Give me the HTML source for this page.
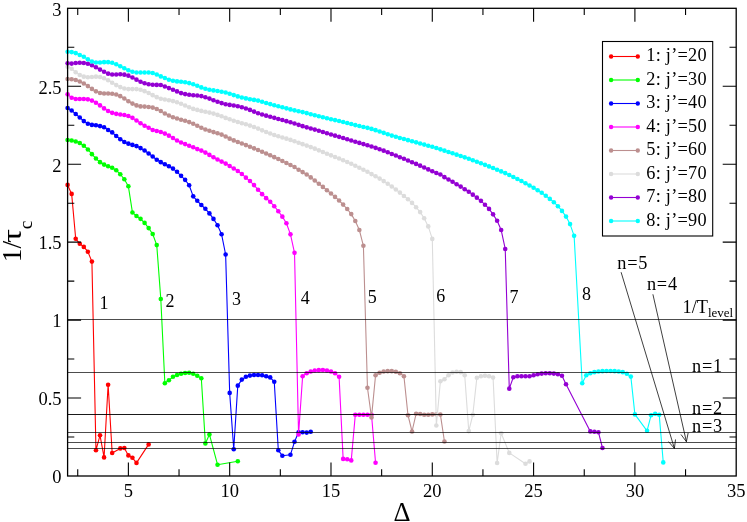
<!DOCTYPE html>
<html><head><meta charset="utf-8"><title>plot</title><style>html,body{margin:0;padding:0;background:#fff}svg{display:block;will-change:transform}text{font-family:"Liberation Serif",serif;fill:#000}</style></head><body>
<svg width="747" height="522" viewBox="0 0 747 522">
<rect width="747" height="522" fill="#fff"/>
<g stroke="#ff0000" fill="#ff0000"><path d="M67.60 184.90L71.65 193.90L75.70 238.80L79.76 243.70L83.81 246.90L87.86 251.70L91.91 261.60L95.96 450.20L100.02 435.30L104.07 457.40L108.12 384.70L112.17 453.00L120.28 448.40L124.33 448.00L128.38 455.40L132.43 457.80L136.49 462.90L148.64 444.40" fill="none" stroke-width="1.1" stroke-linejoin="round"/>
<g stroke="none"><circle cx="67.60" cy="184.90" r="2.3"/><circle cx="71.65" cy="193.90" r="2.3"/><circle cx="75.70" cy="238.80" r="2.3"/><circle cx="79.76" cy="243.70" r="2.3"/><circle cx="83.81" cy="246.90" r="2.3"/><circle cx="87.86" cy="251.70" r="2.3"/><circle cx="91.91" cy="261.60" r="2.3"/><circle cx="95.96" cy="450.20" r="2.3"/><circle cx="100.02" cy="435.30" r="2.3"/><circle cx="104.07" cy="457.40" r="2.3"/><circle cx="108.12" cy="384.70" r="2.3"/><circle cx="112.17" cy="453.00" r="2.3"/><circle cx="120.28" cy="448.40" r="2.3"/><circle cx="124.33" cy="448.00" r="2.3"/><circle cx="128.38" cy="455.40" r="2.3"/><circle cx="132.43" cy="457.80" r="2.3"/><circle cx="136.49" cy="462.90" r="2.3"/><circle cx="148.64" cy="444.40" r="2.3"/></g></g>
<g stroke="#00ff00" fill="#00ff00"><path d="M67.60 140.05L71.65 140.46L75.70 141.46L79.76 143.07L83.81 145.68L87.86 149.50L91.91 154.13L95.96 158.55L100.02 162.17L104.07 164.58L108.12 166.19L112.17 167.80L116.23 170.21L120.28 174.24L124.33 179.26L128.38 186.30L132.43 212.44L136.49 216.06L140.54 218.87L144.59 222.90L148.64 228.12L152.69 234.02L156.75 245.08L160.80 298.97L164.85 383.23L168.90 380.21L172.96 376.80L177.01 374.99L181.06 373.78L185.11 372.98L189.16 372.77L193.22 373.78L197.27 375.79L201.32 378.20L205.37 443.40L209.42 434.40L217.53 464.70L237.79 461.30" fill="none" stroke-width="1.1" stroke-linejoin="round"/>
<g stroke="none"><circle cx="67.60" cy="140.05" r="2.3"/><circle cx="71.65" cy="140.46" r="2.3"/><circle cx="75.70" cy="141.46" r="2.3"/><circle cx="79.76" cy="143.07" r="2.3"/><circle cx="83.81" cy="145.68" r="2.3"/><circle cx="87.86" cy="149.50" r="2.3"/><circle cx="91.91" cy="154.13" r="2.3"/><circle cx="95.96" cy="158.55" r="2.3"/><circle cx="100.02" cy="162.17" r="2.3"/><circle cx="104.07" cy="164.58" r="2.3"/><circle cx="108.12" cy="166.19" r="2.3"/><circle cx="112.17" cy="167.80" r="2.3"/><circle cx="116.23" cy="170.21" r="2.3"/><circle cx="120.28" cy="174.24" r="2.3"/><circle cx="124.33" cy="179.26" r="2.3"/><circle cx="128.38" cy="186.30" r="2.3"/><circle cx="132.43" cy="212.44" r="2.3"/><circle cx="136.49" cy="216.06" r="2.3"/><circle cx="140.54" cy="218.87" r="2.3"/><circle cx="144.59" cy="222.90" r="2.3"/><circle cx="148.64" cy="228.12" r="2.3"/><circle cx="152.69" cy="234.02" r="2.3"/><circle cx="156.75" cy="245.08" r="2.3"/><circle cx="160.80" cy="298.97" r="2.3"/><circle cx="164.85" cy="383.23" r="2.3"/><circle cx="168.90" cy="380.21" r="2.3"/><circle cx="172.96" cy="376.80" r="2.3"/><circle cx="177.01" cy="374.99" r="2.3"/><circle cx="181.06" cy="373.78" r="2.3"/><circle cx="185.11" cy="372.98" r="2.3"/><circle cx="189.16" cy="372.77" r="2.3"/><circle cx="193.22" cy="373.78" r="2.3"/><circle cx="197.27" cy="375.79" r="2.3"/><circle cx="201.32" cy="378.20" r="2.3"/><circle cx="205.37" cy="443.40" r="2.3"/><circle cx="209.42" cy="434.40" r="2.3"/><circle cx="217.53" cy="464.70" r="2.3"/><circle cx="237.79" cy="461.30" r="2.3"/></g></g>
<g stroke="#0000ff" fill="#0000ff"><path d="M67.60 108.02L71.65 110.43L75.70 114.05L79.76 117.47L83.81 121.09L87.86 123.70L91.91 124.91L95.96 125.31L100.02 126.11L104.07 127.32L108.12 130.00L112.17 132.41L116.23 136.03L120.28 139.25L124.33 142.06L128.38 143.67L132.43 144.88L136.49 146.09L140.54 148.10L144.59 150.51L148.64 153.53L152.69 156.54L156.75 159.76L160.80 162.17L164.85 164.18L168.90 166.19L172.96 168.61L177.01 171.82L181.06 175.84L185.11 179.87L189.16 185.29L193.22 196.35L197.27 200.78L201.32 205.00L205.37 208.80L209.42 213.40L213.48 218.90L217.53 225.30L221.58 234.30L225.63 254.50L229.68 392.90L233.74 449.30L237.79 385.64L241.84 379.61L245.89 376.80L249.95 375.59L254.00 374.99L258.05 374.99L262.10 375.19L266.15 376.19L270.21 377.40L274.26 381.82L278.31 450.30L282.36 455.70L290.47 454.70L294.52 441.80L298.57 432.20L302.62 432.20L306.68 432.60L310.73 431.80" fill="none" stroke-width="1.1" stroke-linejoin="round"/>
<g stroke="none"><circle cx="67.60" cy="108.02" r="2.3"/><circle cx="71.65" cy="110.43" r="2.3"/><circle cx="75.70" cy="114.05" r="2.3"/><circle cx="79.76" cy="117.47" r="2.3"/><circle cx="83.81" cy="121.09" r="2.3"/><circle cx="87.86" cy="123.70" r="2.3"/><circle cx="91.91" cy="124.91" r="2.3"/><circle cx="95.96" cy="125.31" r="2.3"/><circle cx="100.02" cy="126.11" r="2.3"/><circle cx="104.07" cy="127.32" r="2.3"/><circle cx="108.12" cy="130.00" r="2.3"/><circle cx="112.17" cy="132.41" r="2.3"/><circle cx="116.23" cy="136.03" r="2.3"/><circle cx="120.28" cy="139.25" r="2.3"/><circle cx="124.33" cy="142.06" r="2.3"/><circle cx="128.38" cy="143.67" r="2.3"/><circle cx="132.43" cy="144.88" r="2.3"/><circle cx="136.49" cy="146.09" r="2.3"/><circle cx="140.54" cy="148.10" r="2.3"/><circle cx="144.59" cy="150.51" r="2.3"/><circle cx="148.64" cy="153.53" r="2.3"/><circle cx="152.69" cy="156.54" r="2.3"/><circle cx="156.75" cy="159.76" r="2.3"/><circle cx="160.80" cy="162.17" r="2.3"/><circle cx="164.85" cy="164.18" r="2.3"/><circle cx="168.90" cy="166.19" r="2.3"/><circle cx="172.96" cy="168.61" r="2.3"/><circle cx="177.01" cy="171.82" r="2.3"/><circle cx="181.06" cy="175.84" r="2.3"/><circle cx="185.11" cy="179.87" r="2.3"/><circle cx="189.16" cy="185.29" r="2.3"/><circle cx="193.22" cy="196.35" r="2.3"/><circle cx="197.27" cy="200.78" r="2.3"/><circle cx="201.32" cy="205.00" r="2.3"/><circle cx="205.37" cy="208.80" r="2.3"/><circle cx="209.42" cy="213.40" r="2.3"/><circle cx="213.48" cy="218.90" r="2.3"/><circle cx="217.53" cy="225.30" r="2.3"/><circle cx="221.58" cy="234.30" r="2.3"/><circle cx="225.63" cy="254.50" r="2.3"/><circle cx="229.68" cy="392.90" r="2.3"/><circle cx="233.74" cy="449.30" r="2.3"/><circle cx="237.79" cy="385.64" r="2.3"/><circle cx="241.84" cy="379.61" r="2.3"/><circle cx="245.89" cy="376.80" r="2.3"/><circle cx="249.95" cy="375.59" r="2.3"/><circle cx="254.00" cy="374.99" r="2.3"/><circle cx="258.05" cy="374.99" r="2.3"/><circle cx="262.10" cy="375.19" r="2.3"/><circle cx="266.15" cy="376.19" r="2.3"/><circle cx="270.21" cy="377.40" r="2.3"/><circle cx="274.26" cy="381.82" r="2.3"/><circle cx="278.31" cy="450.30" r="2.3"/><circle cx="282.36" cy="455.70" r="2.3"/><circle cx="290.47" cy="454.70" r="2.3"/><circle cx="294.52" cy="441.80" r="2.3"/><circle cx="298.57" cy="432.20" r="2.3"/><circle cx="302.62" cy="432.20" r="2.3"/><circle cx="306.68" cy="432.60" r="2.3"/><circle cx="310.73" cy="431.80" r="2.3"/></g></g>
<g stroke="#ff00ff" fill="#ff00ff"><path d="M67.60 94.34L71.65 97.76L75.70 98.97L79.76 98.97L83.81 98.97L87.86 99.37L91.91 100.58L95.96 102.79L100.02 105.40L104.07 108.42L108.12 111.03L112.17 112.84L116.23 113.85L120.28 114.45L124.33 115.05L128.38 116.06L132.43 117.87L136.49 120.48L140.54 123.30L144.59 125.71L148.64 127.72L152.69 130.00L156.75 131.01L160.80 132.01L164.85 133.62L168.90 135.63L172.96 138.04L177.01 140.46L181.06 142.47L185.11 144.08L189.16 145.68L193.22 147.29L197.27 149.10L201.32 150.60L205.37 152.60L209.42 154.90L213.48 157.30L217.53 159.50L221.58 161.60L225.63 163.60L229.68 166.00L233.74 168.50L237.79 171.01L241.84 174.02L245.89 177.64L249.95 181.06L254.00 185.08L258.05 189.71L262.10 194.13L266.15 198.15L270.21 201.77L274.26 206.19L278.31 211.22L282.36 216.65L286.41 223.28L290.47 234.34L294.52 252.84L298.57 434.40L302.62 376.19L306.68 373.18L310.73 371.57L314.78 370.56L318.83 370.16L322.88 369.96L326.94 370.56L330.99 371.57L335.04 373.18L339.09 376.80L343.14 458.90L347.20 459.30L351.25 460.40L355.30 414.80L359.35 414.80L363.40 414.80L367.46 414.80L371.51 414.80L375.56 462.80" fill="none" stroke-width="1.1" stroke-linejoin="round"/>
<g stroke="none"><circle cx="67.60" cy="94.34" r="2.3"/><circle cx="71.65" cy="97.76" r="2.3"/><circle cx="75.70" cy="98.97" r="2.3"/><circle cx="79.76" cy="98.97" r="2.3"/><circle cx="83.81" cy="98.97" r="2.3"/><circle cx="87.86" cy="99.37" r="2.3"/><circle cx="91.91" cy="100.58" r="2.3"/><circle cx="95.96" cy="102.79" r="2.3"/><circle cx="100.02" cy="105.40" r="2.3"/><circle cx="104.07" cy="108.42" r="2.3"/><circle cx="108.12" cy="111.03" r="2.3"/><circle cx="112.17" cy="112.84" r="2.3"/><circle cx="116.23" cy="113.85" r="2.3"/><circle cx="120.28" cy="114.45" r="2.3"/><circle cx="124.33" cy="115.05" r="2.3"/><circle cx="128.38" cy="116.06" r="2.3"/><circle cx="132.43" cy="117.87" r="2.3"/><circle cx="136.49" cy="120.48" r="2.3"/><circle cx="140.54" cy="123.30" r="2.3"/><circle cx="144.59" cy="125.71" r="2.3"/><circle cx="148.64" cy="127.72" r="2.3"/><circle cx="152.69" cy="130.00" r="2.3"/><circle cx="156.75" cy="131.01" r="2.3"/><circle cx="160.80" cy="132.01" r="2.3"/><circle cx="164.85" cy="133.62" r="2.3"/><circle cx="168.90" cy="135.63" r="2.3"/><circle cx="172.96" cy="138.04" r="2.3"/><circle cx="177.01" cy="140.46" r="2.3"/><circle cx="181.06" cy="142.47" r="2.3"/><circle cx="185.11" cy="144.08" r="2.3"/><circle cx="189.16" cy="145.68" r="2.3"/><circle cx="193.22" cy="147.29" r="2.3"/><circle cx="197.27" cy="149.10" r="2.3"/><circle cx="201.32" cy="150.60" r="2.3"/><circle cx="205.37" cy="152.60" r="2.3"/><circle cx="209.42" cy="154.90" r="2.3"/><circle cx="213.48" cy="157.30" r="2.3"/><circle cx="217.53" cy="159.50" r="2.3"/><circle cx="221.58" cy="161.60" r="2.3"/><circle cx="225.63" cy="163.60" r="2.3"/><circle cx="229.68" cy="166.00" r="2.3"/><circle cx="233.74" cy="168.50" r="2.3"/><circle cx="237.79" cy="171.01" r="2.3"/><circle cx="241.84" cy="174.02" r="2.3"/><circle cx="245.89" cy="177.64" r="2.3"/><circle cx="249.95" cy="181.06" r="2.3"/><circle cx="254.00" cy="185.08" r="2.3"/><circle cx="258.05" cy="189.71" r="2.3"/><circle cx="262.10" cy="194.13" r="2.3"/><circle cx="266.15" cy="198.15" r="2.3"/><circle cx="270.21" cy="201.77" r="2.3"/><circle cx="274.26" cy="206.19" r="2.3"/><circle cx="278.31" cy="211.22" r="2.3"/><circle cx="282.36" cy="216.65" r="2.3"/><circle cx="286.41" cy="223.28" r="2.3"/><circle cx="290.47" cy="234.34" r="2.3"/><circle cx="294.52" cy="252.84" r="2.3"/><circle cx="298.57" cy="434.40" r="2.3"/><circle cx="302.62" cy="376.19" r="2.3"/><circle cx="306.68" cy="373.18" r="2.3"/><circle cx="310.73" cy="371.57" r="2.3"/><circle cx="314.78" cy="370.56" r="2.3"/><circle cx="318.83" cy="370.16" r="2.3"/><circle cx="322.88" cy="369.96" r="2.3"/><circle cx="326.94" cy="370.56" r="2.3"/><circle cx="330.99" cy="371.57" r="2.3"/><circle cx="335.04" cy="373.18" r="2.3"/><circle cx="339.09" cy="376.80" r="2.3"/><circle cx="343.14" cy="458.90" r="2.3"/><circle cx="347.20" cy="459.30" r="2.3"/><circle cx="351.25" cy="460.40" r="2.3"/><circle cx="355.30" cy="414.80" r="2.3"/><circle cx="359.35" cy="414.80" r="2.3"/><circle cx="363.40" cy="414.80" r="2.3"/><circle cx="367.46" cy="414.80" r="2.3"/><circle cx="371.51" cy="414.80" r="2.3"/><circle cx="375.56" cy="462.80" r="2.3"/></g></g>
<g stroke="#bc8f8f" fill="#bc8f8f"><path d="M67.60 79.06L71.65 79.26L75.70 80.07L79.76 81.47L83.81 83.49L87.86 86.10L91.91 88.91L95.96 91.33L100.02 92.94L104.07 93.54L108.12 93.54L112.17 93.74L116.23 94.54L120.28 96.15L124.33 98.57L128.38 101.18L132.43 103.59L136.49 105.40L140.54 106.41L144.59 106.61L148.64 107.01L152.69 107.61L156.75 109.02L160.80 111.03L164.85 113.45L168.90 115.46L172.96 117.27L177.01 118.47L181.06 119.80L185.11 120.80L189.16 122.10L193.22 123.80L197.27 125.70L201.32 127.80L205.37 129.50L209.42 130.80L213.48 132.10L217.53 133.20L221.58 134.60L225.63 136.56L229.68 138.66L233.74 140.39L237.79 141.97L241.84 143.51L245.89 145.11L249.95 146.73L254.00 148.36L258.05 150.04L262.10 151.76L266.15 153.51L270.21 155.31L274.26 157.17L278.31 159.07L282.36 161.01L286.41 162.98L290.47 165.00L294.52 167.00L298.57 169.70L302.62 172.10L306.68 174.50L310.73 177.40L314.78 180.50L318.83 183.70L322.88 186.90L326.94 190.20L330.99 193.50L335.04 196.90L339.09 200.50L343.14 204.60L347.20 209.00L351.25 214.10L355.30 221.00L359.35 230.00L363.40 245.80L367.46 387.70L371.51 417.40L375.56 375.19L379.61 372.77L383.67 371.57L387.72 371.17L391.77 371.17L395.82 371.77L399.87 373.18L403.93 376.19L407.98 415.20L412.03 431.50L416.08 413.80L420.13 414.00L424.19 414.70L428.24 414.70L432.29 414.40L436.34 414.20L440.40 414.60L444.45 441.50" fill="none" stroke-width="1.1" stroke-linejoin="round"/>
<g stroke="none"><circle cx="67.60" cy="79.06" r="2.3"/><circle cx="71.65" cy="79.26" r="2.3"/><circle cx="75.70" cy="80.07" r="2.3"/><circle cx="79.76" cy="81.47" r="2.3"/><circle cx="83.81" cy="83.49" r="2.3"/><circle cx="87.86" cy="86.10" r="2.3"/><circle cx="91.91" cy="88.91" r="2.3"/><circle cx="95.96" cy="91.33" r="2.3"/><circle cx="100.02" cy="92.94" r="2.3"/><circle cx="104.07" cy="93.54" r="2.3"/><circle cx="108.12" cy="93.54" r="2.3"/><circle cx="112.17" cy="93.74" r="2.3"/><circle cx="116.23" cy="94.54" r="2.3"/><circle cx="120.28" cy="96.15" r="2.3"/><circle cx="124.33" cy="98.57" r="2.3"/><circle cx="128.38" cy="101.18" r="2.3"/><circle cx="132.43" cy="103.59" r="2.3"/><circle cx="136.49" cy="105.40" r="2.3"/><circle cx="140.54" cy="106.41" r="2.3"/><circle cx="144.59" cy="106.61" r="2.3"/><circle cx="148.64" cy="107.01" r="2.3"/><circle cx="152.69" cy="107.61" r="2.3"/><circle cx="156.75" cy="109.02" r="2.3"/><circle cx="160.80" cy="111.03" r="2.3"/><circle cx="164.85" cy="113.45" r="2.3"/><circle cx="168.90" cy="115.46" r="2.3"/><circle cx="172.96" cy="117.27" r="2.3"/><circle cx="177.01" cy="118.47" r="2.3"/><circle cx="181.06" cy="119.80" r="2.3"/><circle cx="185.11" cy="120.80" r="2.3"/><circle cx="189.16" cy="122.10" r="2.3"/><circle cx="193.22" cy="123.80" r="2.3"/><circle cx="197.27" cy="125.70" r="2.3"/><circle cx="201.32" cy="127.80" r="2.3"/><circle cx="205.37" cy="129.50" r="2.3"/><circle cx="209.42" cy="130.80" r="2.3"/><circle cx="213.48" cy="132.10" r="2.3"/><circle cx="217.53" cy="133.20" r="2.3"/><circle cx="221.58" cy="134.60" r="2.3"/><circle cx="225.63" cy="136.56" r="2.3"/><circle cx="229.68" cy="138.66" r="2.3"/><circle cx="233.74" cy="140.39" r="2.3"/><circle cx="237.79" cy="141.97" r="2.3"/><circle cx="241.84" cy="143.51" r="2.3"/><circle cx="245.89" cy="145.11" r="2.3"/><circle cx="249.95" cy="146.73" r="2.3"/><circle cx="254.00" cy="148.36" r="2.3"/><circle cx="258.05" cy="150.04" r="2.3"/><circle cx="262.10" cy="151.76" r="2.3"/><circle cx="266.15" cy="153.51" r="2.3"/><circle cx="270.21" cy="155.31" r="2.3"/><circle cx="274.26" cy="157.17" r="2.3"/><circle cx="278.31" cy="159.07" r="2.3"/><circle cx="282.36" cy="161.01" r="2.3"/><circle cx="286.41" cy="162.98" r="2.3"/><circle cx="290.47" cy="165.00" r="2.3"/><circle cx="294.52" cy="167.00" r="2.3"/><circle cx="298.57" cy="169.70" r="2.3"/><circle cx="302.62" cy="172.10" r="2.3"/><circle cx="306.68" cy="174.50" r="2.3"/><circle cx="310.73" cy="177.40" r="2.3"/><circle cx="314.78" cy="180.50" r="2.3"/><circle cx="318.83" cy="183.70" r="2.3"/><circle cx="322.88" cy="186.90" r="2.3"/><circle cx="326.94" cy="190.20" r="2.3"/><circle cx="330.99" cy="193.50" r="2.3"/><circle cx="335.04" cy="196.90" r="2.3"/><circle cx="339.09" cy="200.50" r="2.3"/><circle cx="343.14" cy="204.60" r="2.3"/><circle cx="347.20" cy="209.00" r="2.3"/><circle cx="351.25" cy="214.10" r="2.3"/><circle cx="355.30" cy="221.00" r="2.3"/><circle cx="359.35" cy="230.00" r="2.3"/><circle cx="363.40" cy="245.80" r="2.3"/><circle cx="367.46" cy="387.70" r="2.3"/><circle cx="371.51" cy="417.40" r="2.3"/><circle cx="375.56" cy="375.19" r="2.3"/><circle cx="379.61" cy="372.77" r="2.3"/><circle cx="383.67" cy="371.57" r="2.3"/><circle cx="387.72" cy="371.17" r="2.3"/><circle cx="391.77" cy="371.17" r="2.3"/><circle cx="395.82" cy="371.77" r="2.3"/><circle cx="399.87" cy="373.18" r="2.3"/><circle cx="403.93" cy="376.19" r="2.3"/><circle cx="407.98" cy="415.20" r="2.3"/><circle cx="412.03" cy="431.50" r="2.3"/><circle cx="416.08" cy="413.80" r="2.3"/><circle cx="420.13" cy="414.00" r="2.3"/><circle cx="424.19" cy="414.70" r="2.3"/><circle cx="428.24" cy="414.70" r="2.3"/><circle cx="432.29" cy="414.40" r="2.3"/><circle cx="436.34" cy="414.20" r="2.3"/><circle cx="440.40" cy="414.60" r="2.3"/><circle cx="444.45" cy="441.50" r="2.3"/></g></g>
<g stroke="#dcdcdc" fill="#dcdcdc"><path d="M67.60 66.80L71.65 68.81L75.70 72.23L79.76 75.04L83.81 76.65L87.86 77.25L91.91 77.05L95.96 76.65L100.02 77.05L104.07 78.26L108.12 80.27L112.17 82.68L116.23 85.09L120.28 87.10L124.33 88.51L128.38 89.12L132.43 89.12L136.49 89.12L140.54 89.72L144.59 91.13L148.64 92.94L152.69 95.15L156.75 97.16L160.80 98.80L164.85 99.50L168.90 100.20L172.96 101.10L177.01 102.20L181.06 103.80L185.11 105.50L189.16 107.30L193.22 108.90L197.27 109.90L201.32 110.90L205.37 111.80L209.42 112.60L213.48 113.60L217.53 114.90L221.58 116.20L225.63 117.90L229.68 119.30L233.74 120.70L237.79 122.00L241.84 123.20L245.89 124.30L249.95 125.60L254.00 127.00L258.05 128.60L262.10 130.35L266.15 132.07L270.21 133.57L274.26 134.94L278.31 136.24L282.36 137.50L286.41 138.67L290.47 139.89L294.52 141.24L298.57 142.68L302.62 144.14L306.68 145.61L310.73 147.11L314.78 148.67L318.83 150.33L322.88 152.05L326.94 153.74L330.99 155.34L335.04 156.93L339.09 158.56L343.14 160.26L347.20 162.00L351.25 163.80L355.30 165.80L359.35 167.80L363.40 169.80L367.46 171.80L371.51 174.10L375.56 176.30L379.61 178.60L383.67 181.10L387.72 183.80L391.77 186.50L395.82 189.50L399.87 192.60L403.93 196.00L407.98 199.30L412.03 202.90L416.08 207.20L420.13 212.10L424.19 218.30L428.24 226.40L432.29 238.90L436.34 425.50L440.40 381.22L444.45 379.21L448.50 375.19L452.55 372.57L456.60 371.77L460.66 372.17L464.71 375.19L468.76 431.10L472.81 414.80L476.86 377.80L480.92 376.19L484.97 375.79L489.02 376.19L493.07 377.60L497.12 463.00L501.18 433.30L509.28 452.90L525.49 463.80L529.54 461.40" fill="none" stroke-width="1.1" stroke-linejoin="round"/>
<g stroke="none"><circle cx="67.60" cy="66.80" r="2.3"/><circle cx="71.65" cy="68.81" r="2.3"/><circle cx="75.70" cy="72.23" r="2.3"/><circle cx="79.76" cy="75.04" r="2.3"/><circle cx="83.81" cy="76.65" r="2.3"/><circle cx="87.86" cy="77.25" r="2.3"/><circle cx="91.91" cy="77.05" r="2.3"/><circle cx="95.96" cy="76.65" r="2.3"/><circle cx="100.02" cy="77.05" r="2.3"/><circle cx="104.07" cy="78.26" r="2.3"/><circle cx="108.12" cy="80.27" r="2.3"/><circle cx="112.17" cy="82.68" r="2.3"/><circle cx="116.23" cy="85.09" r="2.3"/><circle cx="120.28" cy="87.10" r="2.3"/><circle cx="124.33" cy="88.51" r="2.3"/><circle cx="128.38" cy="89.12" r="2.3"/><circle cx="132.43" cy="89.12" r="2.3"/><circle cx="136.49" cy="89.12" r="2.3"/><circle cx="140.54" cy="89.72" r="2.3"/><circle cx="144.59" cy="91.13" r="2.3"/><circle cx="148.64" cy="92.94" r="2.3"/><circle cx="152.69" cy="95.15" r="2.3"/><circle cx="156.75" cy="97.16" r="2.3"/><circle cx="160.80" cy="98.80" r="2.3"/><circle cx="164.85" cy="99.50" r="2.3"/><circle cx="168.90" cy="100.20" r="2.3"/><circle cx="172.96" cy="101.10" r="2.3"/><circle cx="177.01" cy="102.20" r="2.3"/><circle cx="181.06" cy="103.80" r="2.3"/><circle cx="185.11" cy="105.50" r="2.3"/><circle cx="189.16" cy="107.30" r="2.3"/><circle cx="193.22" cy="108.90" r="2.3"/><circle cx="197.27" cy="109.90" r="2.3"/><circle cx="201.32" cy="110.90" r="2.3"/><circle cx="205.37" cy="111.80" r="2.3"/><circle cx="209.42" cy="112.60" r="2.3"/><circle cx="213.48" cy="113.60" r="2.3"/><circle cx="217.53" cy="114.90" r="2.3"/><circle cx="221.58" cy="116.20" r="2.3"/><circle cx="225.63" cy="117.90" r="2.3"/><circle cx="229.68" cy="119.30" r="2.3"/><circle cx="233.74" cy="120.70" r="2.3"/><circle cx="237.79" cy="122.00" r="2.3"/><circle cx="241.84" cy="123.20" r="2.3"/><circle cx="245.89" cy="124.30" r="2.3"/><circle cx="249.95" cy="125.60" r="2.3"/><circle cx="254.00" cy="127.00" r="2.3"/><circle cx="258.05" cy="128.60" r="2.3"/><circle cx="262.10" cy="130.35" r="2.3"/><circle cx="266.15" cy="132.07" r="2.3"/><circle cx="270.21" cy="133.57" r="2.3"/><circle cx="274.26" cy="134.94" r="2.3"/><circle cx="278.31" cy="136.24" r="2.3"/><circle cx="282.36" cy="137.50" r="2.3"/><circle cx="286.41" cy="138.67" r="2.3"/><circle cx="290.47" cy="139.89" r="2.3"/><circle cx="294.52" cy="141.24" r="2.3"/><circle cx="298.57" cy="142.68" r="2.3"/><circle cx="302.62" cy="144.14" r="2.3"/><circle cx="306.68" cy="145.61" r="2.3"/><circle cx="310.73" cy="147.11" r="2.3"/><circle cx="314.78" cy="148.67" r="2.3"/><circle cx="318.83" cy="150.33" r="2.3"/><circle cx="322.88" cy="152.05" r="2.3"/><circle cx="326.94" cy="153.74" r="2.3"/><circle cx="330.99" cy="155.34" r="2.3"/><circle cx="335.04" cy="156.93" r="2.3"/><circle cx="339.09" cy="158.56" r="2.3"/><circle cx="343.14" cy="160.26" r="2.3"/><circle cx="347.20" cy="162.00" r="2.3"/><circle cx="351.25" cy="163.80" r="2.3"/><circle cx="355.30" cy="165.80" r="2.3"/><circle cx="359.35" cy="167.80" r="2.3"/><circle cx="363.40" cy="169.80" r="2.3"/><circle cx="367.46" cy="171.80" r="2.3"/><circle cx="371.51" cy="174.10" r="2.3"/><circle cx="375.56" cy="176.30" r="2.3"/><circle cx="379.61" cy="178.60" r="2.3"/><circle cx="383.67" cy="181.10" r="2.3"/><circle cx="387.72" cy="183.80" r="2.3"/><circle cx="391.77" cy="186.50" r="2.3"/><circle cx="395.82" cy="189.50" r="2.3"/><circle cx="399.87" cy="192.60" r="2.3"/><circle cx="403.93" cy="196.00" r="2.3"/><circle cx="407.98" cy="199.30" r="2.3"/><circle cx="412.03" cy="202.90" r="2.3"/><circle cx="416.08" cy="207.20" r="2.3"/><circle cx="420.13" cy="212.10" r="2.3"/><circle cx="424.19" cy="218.30" r="2.3"/><circle cx="428.24" cy="226.40" r="2.3"/><circle cx="432.29" cy="238.90" r="2.3"/><circle cx="436.34" cy="425.50" r="2.3"/><circle cx="440.40" cy="381.22" r="2.3"/><circle cx="444.45" cy="379.21" r="2.3"/><circle cx="448.50" cy="375.19" r="2.3"/><circle cx="452.55" cy="372.57" r="2.3"/><circle cx="456.60" cy="371.77" r="2.3"/><circle cx="460.66" cy="372.17" r="2.3"/><circle cx="464.71" cy="375.19" r="2.3"/><circle cx="468.76" cy="431.10" r="2.3"/><circle cx="472.81" cy="414.80" r="2.3"/><circle cx="476.86" cy="377.80" r="2.3"/><circle cx="480.92" cy="376.19" r="2.3"/><circle cx="484.97" cy="375.79" r="2.3"/><circle cx="489.02" cy="376.19" r="2.3"/><circle cx="493.07" cy="377.60" r="2.3"/><circle cx="497.12" cy="463.00" r="2.3"/><circle cx="501.18" cy="433.30" r="2.3"/><circle cx="509.28" cy="452.90" r="2.3"/><circle cx="525.49" cy="463.80" r="2.3"/><circle cx="529.54" cy="461.40" r="2.3"/></g></g>
<g stroke="#9400d3" fill="#9400d3"><path d="M67.60 63.18L71.65 63.58L75.70 62.98L79.76 62.77L83.81 62.98L87.86 63.78L91.91 65.19L95.96 67.20L100.02 69.61L104.07 71.82L108.12 73.63L112.17 74.44L116.23 74.44L120.28 74.24L124.33 74.64L128.38 75.64L132.43 77.45L136.49 79.66L140.54 81.68L144.59 83.28L148.64 84.29L152.69 84.69L156.75 84.89L160.80 85.00L164.85 86.50L168.90 88.10L172.96 89.70L177.01 91.40L181.06 93.10L185.11 94.10L189.16 94.80L193.22 95.20L197.27 95.50L201.32 96.10L205.37 97.20L209.42 98.60L213.48 100.20L217.53 101.80L221.58 103.10L225.63 104.20L229.68 104.90L233.74 105.50L237.79 106.20L241.84 107.30L245.89 108.50L249.95 109.90L254.00 111.60L258.05 113.20L262.10 114.49L266.15 115.66L270.21 116.79L274.26 117.86L278.31 118.93L282.36 120.04L286.41 121.16L290.47 122.31L294.52 123.52L298.57 124.84L302.62 126.16L306.68 127.36L310.73 128.49L314.78 129.62L318.83 130.80L322.88 132.00L326.94 133.22L330.99 134.44L335.04 135.64L339.09 136.85L343.14 138.06L347.20 139.27L351.25 140.48L355.30 141.69L359.35 142.90L363.40 144.08L367.46 145.29L371.51 146.55L375.56 147.85L379.61 149.21L383.67 150.65L387.72 152.24L391.77 153.93L395.82 155.57L399.87 157.19L403.93 158.82L407.98 160.49L412.03 162.18L416.08 163.91L420.13 165.67L424.19 167.51L428.24 169.39L432.29 171.23L436.34 172.96L440.40 174.53L444.45 177.14L448.50 179.56L452.55 181.77L456.60 184.18L460.66 186.60L464.71 189.21L468.76 191.82L472.81 194.64L476.86 197.65L480.92 200.87L484.97 204.69L489.02 208.91L493.07 214.34L497.12 220.78L501.18 230.03L505.23 248.93L509.28 388.66L513.33 377.20L517.39 376.19L521.44 376.19L525.49 376.19L529.54 376.19L533.59 375.19L537.65 374.18L541.70 373.58L545.75 373.18L549.80 373.18L553.85 373.58L557.91 374.18L561.96 375.79L566.01 384.24L590.32 431.40L594.38 431.80L598.43 432.20L602.48 448.00" fill="none" stroke-width="1.1" stroke-linejoin="round"/>
<g stroke="none"><circle cx="67.60" cy="63.18" r="2.3"/><circle cx="71.65" cy="63.58" r="2.3"/><circle cx="75.70" cy="62.98" r="2.3"/><circle cx="79.76" cy="62.77" r="2.3"/><circle cx="83.81" cy="62.98" r="2.3"/><circle cx="87.86" cy="63.78" r="2.3"/><circle cx="91.91" cy="65.19" r="2.3"/><circle cx="95.96" cy="67.20" r="2.3"/><circle cx="100.02" cy="69.61" r="2.3"/><circle cx="104.07" cy="71.82" r="2.3"/><circle cx="108.12" cy="73.63" r="2.3"/><circle cx="112.17" cy="74.44" r="2.3"/><circle cx="116.23" cy="74.44" r="2.3"/><circle cx="120.28" cy="74.24" r="2.3"/><circle cx="124.33" cy="74.64" r="2.3"/><circle cx="128.38" cy="75.64" r="2.3"/><circle cx="132.43" cy="77.45" r="2.3"/><circle cx="136.49" cy="79.66" r="2.3"/><circle cx="140.54" cy="81.68" r="2.3"/><circle cx="144.59" cy="83.28" r="2.3"/><circle cx="148.64" cy="84.29" r="2.3"/><circle cx="152.69" cy="84.69" r="2.3"/><circle cx="156.75" cy="84.89" r="2.3"/><circle cx="160.80" cy="85.00" r="2.3"/><circle cx="164.85" cy="86.50" r="2.3"/><circle cx="168.90" cy="88.10" r="2.3"/><circle cx="172.96" cy="89.70" r="2.3"/><circle cx="177.01" cy="91.40" r="2.3"/><circle cx="181.06" cy="93.10" r="2.3"/><circle cx="185.11" cy="94.10" r="2.3"/><circle cx="189.16" cy="94.80" r="2.3"/><circle cx="193.22" cy="95.20" r="2.3"/><circle cx="197.27" cy="95.50" r="2.3"/><circle cx="201.32" cy="96.10" r="2.3"/><circle cx="205.37" cy="97.20" r="2.3"/><circle cx="209.42" cy="98.60" r="2.3"/><circle cx="213.48" cy="100.20" r="2.3"/><circle cx="217.53" cy="101.80" r="2.3"/><circle cx="221.58" cy="103.10" r="2.3"/><circle cx="225.63" cy="104.20" r="2.3"/><circle cx="229.68" cy="104.90" r="2.3"/><circle cx="233.74" cy="105.50" r="2.3"/><circle cx="237.79" cy="106.20" r="2.3"/><circle cx="241.84" cy="107.30" r="2.3"/><circle cx="245.89" cy="108.50" r="2.3"/><circle cx="249.95" cy="109.90" r="2.3"/><circle cx="254.00" cy="111.60" r="2.3"/><circle cx="258.05" cy="113.20" r="2.3"/><circle cx="262.10" cy="114.49" r="2.3"/><circle cx="266.15" cy="115.66" r="2.3"/><circle cx="270.21" cy="116.79" r="2.3"/><circle cx="274.26" cy="117.86" r="2.3"/><circle cx="278.31" cy="118.93" r="2.3"/><circle cx="282.36" cy="120.04" r="2.3"/><circle cx="286.41" cy="121.16" r="2.3"/><circle cx="290.47" cy="122.31" r="2.3"/><circle cx="294.52" cy="123.52" r="2.3"/><circle cx="298.57" cy="124.84" r="2.3"/><circle cx="302.62" cy="126.16" r="2.3"/><circle cx="306.68" cy="127.36" r="2.3"/><circle cx="310.73" cy="128.49" r="2.3"/><circle cx="314.78" cy="129.62" r="2.3"/><circle cx="318.83" cy="130.80" r="2.3"/><circle cx="322.88" cy="132.00" r="2.3"/><circle cx="326.94" cy="133.22" r="2.3"/><circle cx="330.99" cy="134.44" r="2.3"/><circle cx="335.04" cy="135.64" r="2.3"/><circle cx="339.09" cy="136.85" r="2.3"/><circle cx="343.14" cy="138.06" r="2.3"/><circle cx="347.20" cy="139.27" r="2.3"/><circle cx="351.25" cy="140.48" r="2.3"/><circle cx="355.30" cy="141.69" r="2.3"/><circle cx="359.35" cy="142.90" r="2.3"/><circle cx="363.40" cy="144.08" r="2.3"/><circle cx="367.46" cy="145.29" r="2.3"/><circle cx="371.51" cy="146.55" r="2.3"/><circle cx="375.56" cy="147.85" r="2.3"/><circle cx="379.61" cy="149.21" r="2.3"/><circle cx="383.67" cy="150.65" r="2.3"/><circle cx="387.72" cy="152.24" r="2.3"/><circle cx="391.77" cy="153.93" r="2.3"/><circle cx="395.82" cy="155.57" r="2.3"/><circle cx="399.87" cy="157.19" r="2.3"/><circle cx="403.93" cy="158.82" r="2.3"/><circle cx="407.98" cy="160.49" r="2.3"/><circle cx="412.03" cy="162.18" r="2.3"/><circle cx="416.08" cy="163.91" r="2.3"/><circle cx="420.13" cy="165.67" r="2.3"/><circle cx="424.19" cy="167.51" r="2.3"/><circle cx="428.24" cy="169.39" r="2.3"/><circle cx="432.29" cy="171.23" r="2.3"/><circle cx="436.34" cy="172.96" r="2.3"/><circle cx="440.40" cy="174.53" r="2.3"/><circle cx="444.45" cy="177.14" r="2.3"/><circle cx="448.50" cy="179.56" r="2.3"/><circle cx="452.55" cy="181.77" r="2.3"/><circle cx="456.60" cy="184.18" r="2.3"/><circle cx="460.66" cy="186.60" r="2.3"/><circle cx="464.71" cy="189.21" r="2.3"/><circle cx="468.76" cy="191.82" r="2.3"/><circle cx="472.81" cy="194.64" r="2.3"/><circle cx="476.86" cy="197.65" r="2.3"/><circle cx="480.92" cy="200.87" r="2.3"/><circle cx="484.97" cy="204.69" r="2.3"/><circle cx="489.02" cy="208.91" r="2.3"/><circle cx="493.07" cy="214.34" r="2.3"/><circle cx="497.12" cy="220.78" r="2.3"/><circle cx="501.18" cy="230.03" r="2.3"/><circle cx="505.23" cy="248.93" r="2.3"/><circle cx="509.28" cy="388.66" r="2.3"/><circle cx="513.33" cy="377.20" r="2.3"/><circle cx="517.39" cy="376.19" r="2.3"/><circle cx="521.44" cy="376.19" r="2.3"/><circle cx="525.49" cy="376.19" r="2.3"/><circle cx="529.54" cy="376.19" r="2.3"/><circle cx="533.59" cy="375.19" r="2.3"/><circle cx="537.65" cy="374.18" r="2.3"/><circle cx="541.70" cy="373.58" r="2.3"/><circle cx="545.75" cy="373.18" r="2.3"/><circle cx="549.80" cy="373.18" r="2.3"/><circle cx="553.85" cy="373.58" r="2.3"/><circle cx="557.91" cy="374.18" r="2.3"/><circle cx="561.96" cy="375.79" r="2.3"/><circle cx="566.01" cy="384.24" r="2.3"/><circle cx="590.32" cy="431.40" r="2.3"/><circle cx="594.38" cy="431.80" r="2.3"/><circle cx="598.43" cy="432.20" r="2.3"/><circle cx="602.48" cy="448.00" r="2.3"/></g></g>
<g stroke="#00ffff" fill="#00ffff"><path d="M67.60 51.72L71.65 52.12L75.70 53.12L79.76 54.93L83.81 56.74L87.86 59.36L91.91 61.57L95.96 62.57L100.02 62.57L104.07 62.17L108.12 62.17L112.17 62.77L116.23 64.18L120.28 66.19L124.33 68.20L128.38 70.21L132.43 71.82L136.49 72.43L140.54 72.43L144.59 72.43L148.64 72.43L152.69 73.03L156.75 74.44L160.80 76.40L164.85 78.00L168.90 79.70L172.96 80.70L177.01 81.40L181.06 81.80L185.11 82.30L189.16 83.10L193.22 84.30L197.27 85.80L201.32 87.40L205.37 88.80L209.42 89.70L213.48 90.40L217.53 91.00L221.58 91.70L225.63 92.50L229.68 93.70L233.74 95.10L237.79 96.40L241.84 97.50L245.89 98.40L249.95 99.20L254.00 99.90L258.05 100.60L262.10 101.69L266.15 102.96L270.21 104.09L274.26 105.18L278.31 106.25L282.36 107.31L286.41 108.37L290.47 109.40L294.52 110.37L298.57 111.24L302.62 112.12L306.68 113.12L310.73 114.20L314.78 115.28L318.83 116.30L322.88 117.28L326.94 118.23L330.99 119.18L335.04 120.12L339.09 121.04L343.14 121.99L347.20 123.00L351.25 124.05L355.30 125.08L359.35 126.05L363.40 126.94L367.46 127.86L371.51 128.91L375.56 130.15L379.61 131.50L383.67 132.86L387.72 134.23L391.77 135.59L395.82 136.81L399.87 137.94L403.93 139.02L407.98 140.13L412.03 141.24L416.08 142.36L420.13 143.48L424.19 144.58L428.24 145.68L432.29 146.82L436.34 148.04L440.40 149.33L444.45 150.67L448.50 151.99L452.55 153.30L456.60 154.63L460.66 155.99L464.71 157.37L468.76 158.79L472.81 160.24L476.86 161.74L480.92 163.29L484.97 164.84L489.02 166.41L493.07 168.00L497.12 169.70L501.18 171.40L505.23 173.10L509.28 175.00L513.33 177.00L517.39 179.00L521.44 181.00L525.49 183.20L529.54 185.50L533.59 187.70L537.65 190.20L541.70 192.80L545.75 195.80L549.80 198.90L553.85 202.20L557.91 206.20L561.96 210.90L566.01 216.60L570.06 224.10L574.12 235.86L582.22 383.23L586.27 375.19L590.32 373.18L594.38 372.17L598.43 371.57L602.48 371.17L606.53 370.97L610.58 370.97L614.64 371.17L618.69 371.57L622.74 372.17L626.79 373.78L630.84 376.60L634.90 414.40L647.05 430.80L651.11 415.20L655.16 413.80L659.21 414.80L663.26 462.40" fill="none" stroke-width="1.1" stroke-linejoin="round"/>
<g stroke="none"><circle cx="67.60" cy="51.72" r="2.3"/><circle cx="71.65" cy="52.12" r="2.3"/><circle cx="75.70" cy="53.12" r="2.3"/><circle cx="79.76" cy="54.93" r="2.3"/><circle cx="83.81" cy="56.74" r="2.3"/><circle cx="87.86" cy="59.36" r="2.3"/><circle cx="91.91" cy="61.57" r="2.3"/><circle cx="95.96" cy="62.57" r="2.3"/><circle cx="100.02" cy="62.57" r="2.3"/><circle cx="104.07" cy="62.17" r="2.3"/><circle cx="108.12" cy="62.17" r="2.3"/><circle cx="112.17" cy="62.77" r="2.3"/><circle cx="116.23" cy="64.18" r="2.3"/><circle cx="120.28" cy="66.19" r="2.3"/><circle cx="124.33" cy="68.20" r="2.3"/><circle cx="128.38" cy="70.21" r="2.3"/><circle cx="132.43" cy="71.82" r="2.3"/><circle cx="136.49" cy="72.43" r="2.3"/><circle cx="140.54" cy="72.43" r="2.3"/><circle cx="144.59" cy="72.43" r="2.3"/><circle cx="148.64" cy="72.43" r="2.3"/><circle cx="152.69" cy="73.03" r="2.3"/><circle cx="156.75" cy="74.44" r="2.3"/><circle cx="160.80" cy="76.40" r="2.3"/><circle cx="164.85" cy="78.00" r="2.3"/><circle cx="168.90" cy="79.70" r="2.3"/><circle cx="172.96" cy="80.70" r="2.3"/><circle cx="177.01" cy="81.40" r="2.3"/><circle cx="181.06" cy="81.80" r="2.3"/><circle cx="185.11" cy="82.30" r="2.3"/><circle cx="189.16" cy="83.10" r="2.3"/><circle cx="193.22" cy="84.30" r="2.3"/><circle cx="197.27" cy="85.80" r="2.3"/><circle cx="201.32" cy="87.40" r="2.3"/><circle cx="205.37" cy="88.80" r="2.3"/><circle cx="209.42" cy="89.70" r="2.3"/><circle cx="213.48" cy="90.40" r="2.3"/><circle cx="217.53" cy="91.00" r="2.3"/><circle cx="221.58" cy="91.70" r="2.3"/><circle cx="225.63" cy="92.50" r="2.3"/><circle cx="229.68" cy="93.70" r="2.3"/><circle cx="233.74" cy="95.10" r="2.3"/><circle cx="237.79" cy="96.40" r="2.3"/><circle cx="241.84" cy="97.50" r="2.3"/><circle cx="245.89" cy="98.40" r="2.3"/><circle cx="249.95" cy="99.20" r="2.3"/><circle cx="254.00" cy="99.90" r="2.3"/><circle cx="258.05" cy="100.60" r="2.3"/><circle cx="262.10" cy="101.69" r="2.3"/><circle cx="266.15" cy="102.96" r="2.3"/><circle cx="270.21" cy="104.09" r="2.3"/><circle cx="274.26" cy="105.18" r="2.3"/><circle cx="278.31" cy="106.25" r="2.3"/><circle cx="282.36" cy="107.31" r="2.3"/><circle cx="286.41" cy="108.37" r="2.3"/><circle cx="290.47" cy="109.40" r="2.3"/><circle cx="294.52" cy="110.37" r="2.3"/><circle cx="298.57" cy="111.24" r="2.3"/><circle cx="302.62" cy="112.12" r="2.3"/><circle cx="306.68" cy="113.12" r="2.3"/><circle cx="310.73" cy="114.20" r="2.3"/><circle cx="314.78" cy="115.28" r="2.3"/><circle cx="318.83" cy="116.30" r="2.3"/><circle cx="322.88" cy="117.28" r="2.3"/><circle cx="326.94" cy="118.23" r="2.3"/><circle cx="330.99" cy="119.18" r="2.3"/><circle cx="335.04" cy="120.12" r="2.3"/><circle cx="339.09" cy="121.04" r="2.3"/><circle cx="343.14" cy="121.99" r="2.3"/><circle cx="347.20" cy="123.00" r="2.3"/><circle cx="351.25" cy="124.05" r="2.3"/><circle cx="355.30" cy="125.08" r="2.3"/><circle cx="359.35" cy="126.05" r="2.3"/><circle cx="363.40" cy="126.94" r="2.3"/><circle cx="367.46" cy="127.86" r="2.3"/><circle cx="371.51" cy="128.91" r="2.3"/><circle cx="375.56" cy="130.15" r="2.3"/><circle cx="379.61" cy="131.50" r="2.3"/><circle cx="383.67" cy="132.86" r="2.3"/><circle cx="387.72" cy="134.23" r="2.3"/><circle cx="391.77" cy="135.59" r="2.3"/><circle cx="395.82" cy="136.81" r="2.3"/><circle cx="399.87" cy="137.94" r="2.3"/><circle cx="403.93" cy="139.02" r="2.3"/><circle cx="407.98" cy="140.13" r="2.3"/><circle cx="412.03" cy="141.24" r="2.3"/><circle cx="416.08" cy="142.36" r="2.3"/><circle cx="420.13" cy="143.48" r="2.3"/><circle cx="424.19" cy="144.58" r="2.3"/><circle cx="428.24" cy="145.68" r="2.3"/><circle cx="432.29" cy="146.82" r="2.3"/><circle cx="436.34" cy="148.04" r="2.3"/><circle cx="440.40" cy="149.33" r="2.3"/><circle cx="444.45" cy="150.67" r="2.3"/><circle cx="448.50" cy="151.99" r="2.3"/><circle cx="452.55" cy="153.30" r="2.3"/><circle cx="456.60" cy="154.63" r="2.3"/><circle cx="460.66" cy="155.99" r="2.3"/><circle cx="464.71" cy="157.37" r="2.3"/><circle cx="468.76" cy="158.79" r="2.3"/><circle cx="472.81" cy="160.24" r="2.3"/><circle cx="476.86" cy="161.74" r="2.3"/><circle cx="480.92" cy="163.29" r="2.3"/><circle cx="484.97" cy="164.84" r="2.3"/><circle cx="489.02" cy="166.41" r="2.3"/><circle cx="493.07" cy="168.00" r="2.3"/><circle cx="497.12" cy="169.70" r="2.3"/><circle cx="501.18" cy="171.40" r="2.3"/><circle cx="505.23" cy="173.10" r="2.3"/><circle cx="509.28" cy="175.00" r="2.3"/><circle cx="513.33" cy="177.00" r="2.3"/><circle cx="517.39" cy="179.00" r="2.3"/><circle cx="521.44" cy="181.00" r="2.3"/><circle cx="525.49" cy="183.20" r="2.3"/><circle cx="529.54" cy="185.50" r="2.3"/><circle cx="533.59" cy="187.70" r="2.3"/><circle cx="537.65" cy="190.20" r="2.3"/><circle cx="541.70" cy="192.80" r="2.3"/><circle cx="545.75" cy="195.80" r="2.3"/><circle cx="549.80" cy="198.90" r="2.3"/><circle cx="553.85" cy="202.20" r="2.3"/><circle cx="557.91" cy="206.20" r="2.3"/><circle cx="561.96" cy="210.90" r="2.3"/><circle cx="566.01" cy="216.60" r="2.3"/><circle cx="570.06" cy="224.10" r="2.3"/><circle cx="574.12" cy="235.86" r="2.3"/><circle cx="582.22" cy="383.23" r="2.3"/><circle cx="586.27" cy="375.19" r="2.3"/><circle cx="590.32" cy="373.18" r="2.3"/><circle cx="594.38" cy="372.17" r="2.3"/><circle cx="598.43" cy="371.57" r="2.3"/><circle cx="602.48" cy="371.17" r="2.3"/><circle cx="606.53" cy="370.97" r="2.3"/><circle cx="610.58" cy="370.97" r="2.3"/><circle cx="614.64" cy="371.17" r="2.3"/><circle cx="618.69" cy="371.57" r="2.3"/><circle cx="622.74" cy="372.17" r="2.3"/><circle cx="626.79" cy="373.78" r="2.3"/><circle cx="630.84" cy="376.60" r="2.3"/><circle cx="634.90" cy="414.40" r="2.3"/><circle cx="647.05" cy="430.80" r="2.3"/><circle cx="651.11" cy="415.20" r="2.3"/><circle cx="655.16" cy="413.80" r="2.3"/><circle cx="659.21" cy="414.80" r="2.3"/><circle cx="663.26" cy="462.40" r="2.3"/></g></g>
<line x1="67.6" x2="736.2" y1="319.5" y2="319.5" stroke="#000" stroke-width="0.7"/>
<line x1="67.6" x2="736.2" y1="372.5" y2="372.5" stroke="#000" stroke-width="0.7"/>
<line x1="67.6" x2="736.2" y1="414.5" y2="414.5" stroke="#000" stroke-width="0.9"/>
<line x1="67.6" x2="736.2" y1="432.5" y2="432.5" stroke="#000" stroke-width="0.7"/>
<line x1="67.6" x2="736.2" y1="442.5" y2="442.5" stroke="#000" stroke-width="0.7"/>
<line x1="67.6" x2="736.2" y1="448.5" y2="448.5" stroke="#000" stroke-width="0.7"/>
<path d="M621.1 272.2L674.4 448.4M668.52 441.59L674.4 448.4L675.52 439.47M652.9 294.3L686.4 441.7M681.01 434.49L686.4 441.7L688.15 432.87" stroke="#000" stroke-width="0.75" fill="none"/>
<rect x="67.6" y="8.3" width="668.6" height="467.7" fill="none" stroke="#000" stroke-width="1.3"/>
<path d="M77.73 476.0v-6.7M77.73 8.3v6.7M128.38 476.0v-13.5M128.38 8.3v13.5M179.03 476.0v-6.7M179.03 8.3v6.7M229.68 476.0v-13.5M229.68 8.3v13.5M280.34 476.0v-6.7M280.34 8.3v6.7M330.99 476.0v-13.5M330.99 8.3v13.5M381.64 476.0v-6.7M381.64 8.3v6.7M432.29 476.0v-13.5M432.29 8.3v13.5M482.94 476.0v-6.7M482.94 8.3v6.7M533.59 476.0v-13.5M533.59 8.3v13.5M584.25 476.0v-6.7M584.25 8.3v6.7M634.90 476.0v-13.5M634.90 8.3v13.5M685.55 476.0v-6.7M685.55 8.3v6.7M67.6 437.02h6.7M736.2 437.02h-6.7M67.6 398.05h13.5M736.2 398.05h-13.5M67.6 359.07h6.7M736.2 359.07h-6.7M67.6 320.10h13.5M736.2 320.10h-13.5M67.6 281.12h6.7M736.2 281.12h-6.7M67.6 242.15h13.5M736.2 242.15h-13.5M67.6 203.18h6.7M736.2 203.18h-6.7M67.6 164.20h13.5M736.2 164.20h-13.5M67.6 125.23h6.7M736.2 125.23h-6.7M67.6 86.25h13.5M736.2 86.25h-13.5M67.6 47.28h6.7M736.2 47.28h-6.7" stroke="#000" stroke-width="1.1" fill="none"/>
<text x="99.5" y="308.5" font-size="18">1</text>
<text x="165.5" y="306.5" font-size="18">2</text>
<text x="232" y="305" font-size="18">3</text>
<text x="300.8" y="304" font-size="18">4</text>
<text x="367.8" y="302.5" font-size="18">5</text>
<text x="436.3" y="302" font-size="18">6</text>
<text x="509.5" y="303" font-size="18">7</text>
<text x="582" y="299.5" font-size="18">8</text>
<text x="617.3" y="268.8" font-size="18.3" letter-spacing="0.8">n=5</text>
<text x="646.9" y="289.9" font-size="18.3" letter-spacing="0.8">n=4</text>
<text x="682.5" y="312.8" font-size="18.3">1/T<tspan font-size="13" dy="4.6">level</tspan></text>
<text x="692" y="371.8" font-size="18.3" letter-spacing="0.8">n=1</text>
<text x="692" y="414" font-size="18.3" letter-spacing="0.8">n=2</text>
<text x="692" y="432.2" font-size="18.3" letter-spacing="0.8">n=3</text>
<rect x="602.5" y="41.5" width="110.2" height="194.5" fill="#fff" stroke="#000" stroke-width="1.1"/>
<g stroke="#ff0000" fill="#ff0000"><line x1="611.1" x2="637.8" y1="56.5" y2="56.5" stroke-width="1.1"/><circle cx="611.1" cy="56.5" r="2.2" stroke="none"/><circle cx="637.8" cy="56.5" r="2.2" stroke="none"/></g>
<text x="646.3" y="61.2" font-size="18.3" letter-spacing="0.25">1: j’=20</text>
<g stroke="#00ff00" fill="#00ff00"><line x1="611.1" x2="637.8" y1="80.0" y2="80.0" stroke-width="1.1"/><circle cx="611.1" cy="80.0" r="2.2" stroke="none"/><circle cx="637.8" cy="80.0" r="2.2" stroke="none"/></g>
<text x="646.3" y="84.7" font-size="18.3" letter-spacing="0.25">2: j’=30</text>
<g stroke="#0000ff" fill="#0000ff"><line x1="611.1" x2="637.8" y1="103.5" y2="103.5" stroke-width="1.1"/><circle cx="611.1" cy="103.5" r="2.2" stroke="none"/><circle cx="637.8" cy="103.5" r="2.2" stroke="none"/></g>
<text x="646.3" y="108.2" font-size="18.3" letter-spacing="0.25">3: j’=40</text>
<g stroke="#ff00ff" fill="#ff00ff"><line x1="611.1" x2="637.8" y1="127.0" y2="127.0" stroke-width="1.1"/><circle cx="611.1" cy="127.0" r="2.2" stroke="none"/><circle cx="637.8" cy="127.0" r="2.2" stroke="none"/></g>
<text x="646.3" y="131.7" font-size="18.3" letter-spacing="0.25">4: j’=50</text>
<g stroke="#bc8f8f" fill="#bc8f8f"><line x1="611.1" x2="637.8" y1="150.5" y2="150.5" stroke-width="1.1"/><circle cx="611.1" cy="150.5" r="2.2" stroke="none"/><circle cx="637.8" cy="150.5" r="2.2" stroke="none"/></g>
<text x="646.3" y="155.2" font-size="18.3" letter-spacing="0.25">5: j’=60</text>
<g stroke="#dcdcdc" fill="#dcdcdc"><line x1="611.1" x2="637.8" y1="174.0" y2="174.0" stroke-width="1.1"/><circle cx="611.1" cy="174.0" r="2.2" stroke="none"/><circle cx="637.8" cy="174.0" r="2.2" stroke="none"/></g>
<text x="646.3" y="178.7" font-size="18.3" letter-spacing="0.25">6: j’=70</text>
<g stroke="#9400d3" fill="#9400d3"><line x1="611.1" x2="637.8" y1="197.5" y2="197.5" stroke-width="1.1"/><circle cx="611.1" cy="197.5" r="2.2" stroke="none"/><circle cx="637.8" cy="197.5" r="2.2" stroke="none"/></g>
<text x="646.3" y="202.2" font-size="18.3" letter-spacing="0.25">7: j’=80</text>
<g stroke="#00ffff" fill="#00ffff"><line x1="611.1" x2="637.8" y1="221.0" y2="221.0" stroke-width="1.1"/><circle cx="611.1" cy="221.0" r="2.2" stroke="none"/><circle cx="637.8" cy="221.0" r="2.2" stroke="none"/></g>
<text x="646.3" y="225.7" font-size="18.3" letter-spacing="0.25">8: j’=90</text>
<text x="128.38" y="496.5" font-size="18.5" text-anchor="middle">5</text>
<text x="229.68" y="496.5" font-size="18.5" text-anchor="middle">10</text>
<text x="330.99" y="496.5" font-size="18.5" text-anchor="middle">15</text>
<text x="432.29" y="496.5" font-size="18.5" text-anchor="middle">20</text>
<text x="533.59" y="496.5" font-size="18.5" text-anchor="middle">25</text>
<text x="634.90" y="496.5" font-size="18.5" text-anchor="middle">30</text>
<text x="736.20" y="496.5" font-size="18.5" text-anchor="middle">35</text>
<text x="61.6" y="483.30" font-size="18.5" text-anchor="end">0</text>
<text x="61.6" y="405.35" font-size="18.5" text-anchor="end">0.5</text>
<text x="61.6" y="327.40" font-size="18.5" text-anchor="end">1</text>
<text x="61.6" y="249.45" font-size="18.5" text-anchor="end">1.5</text>
<text x="61.6" y="171.50" font-size="18.5" text-anchor="end">2</text>
<text x="61.6" y="93.55" font-size="18.5" text-anchor="end">2.5</text>
<text x="61.6" y="15.60" font-size="18.5" text-anchor="end">3</text>
<text x="402" y="520.5" font-size="26.5" text-anchor="middle">Δ</text>
<g transform="translate(20.5,262.3) rotate(-90)"><text x="0" y="0" font-size="27.5">1/</text><text transform="translate(19.3,0) scale(1.27,1)" font-size="27.5">τ</text><text x="33" y="11" font-size="19.5">c</text></g>
</svg></body></html>
